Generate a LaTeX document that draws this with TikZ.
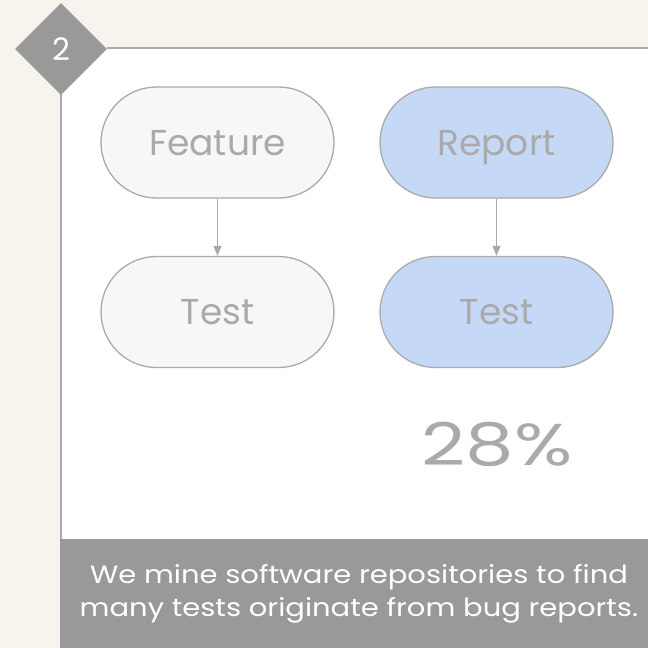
\documentclass[tikz,border=0pt]{standalone}
\usepackage{fontspec}
\setmainfont{Poppins}
\newfontfamily\capfont[FakeStretch=1.16]{Poppins}
\newfontfamily\pctfont[FakeStretch=1.3]{Poppins}
\usetikzlibrary{arrows.meta,shapes.geometric}
\definecolor{bg}{HTML}{F7F4ED}
\definecolor{edge}{HTML}{AAAAAA}
\definecolor{dark}{HTML}{999999}
\definecolor{paleg}{HTML}{F7F7F7}
\definecolor{paleb}{HTML}{C5D9F7}
\definecolor{txt}{HTML}{AAAAAA}
\begin{document}
\begin{tikzpicture}[x=1pt,y=-1pt,
  pill/.style={draw=edge,line width=1.3pt,rounded corners=55.5pt,minimum width=233pt,minimum height=111pt,inner sep=0pt,text=txt,text height=25.5pt,text depth=0pt,font=\fontsize{36}{40}\selectfont},
  flow/.style={draw=edge,line width=1.3pt,-{Triangle[length=10pt,width=8pt]}}]
\useasboundingbox (0,0) rectangle (648,648);
\fill[bg] (0,0) rectangle (648,648);
% panel
\fill[white] (61,48) rectangle (648,539);
\draw[edge,line width=1.5pt] (61,94) -- (61,539);
\draw[edge,line width=1.5pt] (107,48) -- (648,48);
% bottom bar
\fill[dark] (60,539) rectangle (648,648);
\node[text=white,align=center,font=\capfont\fontsize{25}{33}\selectfont] (cap) at (359,594) {We mine software repositories to find\\many tests originate from bug reports.};
% badge
\node[diamond,fill=dark,minimum width=92pt,minimum height=92pt,inner sep=0pt,text=white,font=\fontsize{31}{34}\selectfont] (badge) at (61,49) {2};
% nodes
\node[pill,fill=paleg] (feat) at (217.5,142.5) {Feature};
\node[pill,fill=paleg] (ltest) at (217.5,312) {Test};
\node[pill,fill=paleb] (rep) at (496.5,142.5) {Report};
\node[pill,fill=paleb] (rtest) at (496.5,312) {Test};
\draw[flow] (feat) -- (ltest);
\draw[flow] (rep) -- (rtest);
\node[text=txt,text height=41pt,text depth=0pt,inner sep=0pt,font=\pctfont\fontsize{59}{62}\selectfont] (pct) at (497,445) {28\%};
\end{tikzpicture}
\end{document}
